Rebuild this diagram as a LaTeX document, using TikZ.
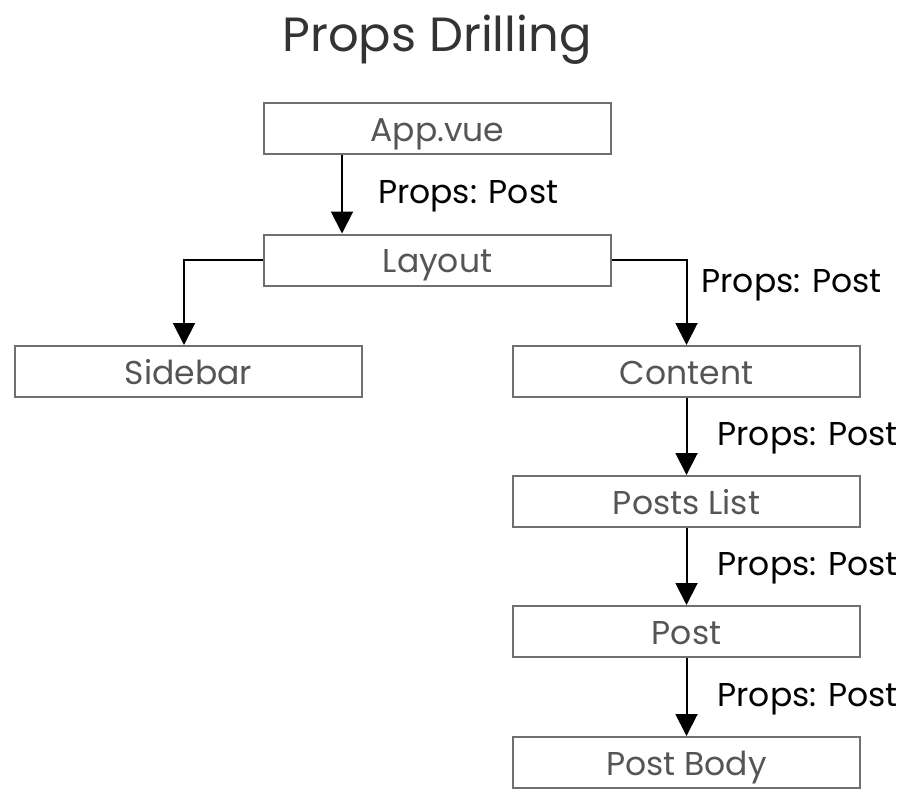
\documentclass[tikz,border=0pt]{standalone}
\usepackage{fontspec}
\setmainfont{Poppins}
\usetikzlibrary{arrows.meta,positioning,calc}
\definecolor{boxgrey}{HTML}{555555}
\definecolor{edgegrey}{HTML}{6F6F6F}
\tikzset{
  comp/.style       = {draw=edgegrey, line width=2pt, minimum height=51pt,
                       minimum width=347pt, inner sep=0pt, text=boxgrey,
                       text height=28pt, text depth=3pt,
                       font=\fontsize{33}{36}\selectfont},
  flow/.style       = {-{Triangle[length=22pt, width=22pt]}, line width=2pt},
  lbl/.style        = {font=\fontsize{33}{36}\selectfont, inner sep=0pt, anchor=west,
                       text height=24pt, text depth=6pt},
  title/.style      = {font=\fontsize{48}{52}\selectfont, text=black!80},
}
\begin{document}
\begin{tikzpicture}[x=1pt, y=-1pt]
  \useasboundingbox (0,0) rectangle (912,805);
  \node[title] (head) at (437,40) {Props Drilling};
  \node[comp] (app) at (437.5,129) {App.vue};
  \node[comp] (layout) at (437.5,260) {Layout};
  \node[comp] (sidebar) at (188.5,371.5) {Sidebar};
  \node[comp] (content) at (686.5,371.5) {Content};
  \node[comp] (list) at (686.5,501.5) {Posts List};
  \node[comp] (post) at (686.5,631.5) {Post};
  \node[comp] (body) at (686.5,762.5) {Post Body};
  \draw[flow] (app.south -| 342,0) -- (layout.north -| 342,0)
    node[midway, lbl, xshift=35pt] {Props: Post};
  \draw[flow] (layout.west) -| (sidebar.north -| 184,0);
  \draw[flow] (layout.east) -| (content.north)
    node[pos=0.64, lbl, xshift=14pt] {Props: Post};
  \draw[flow] (content) -- (list)
    node[midway, lbl, xshift=30pt] {Props: Post};
  \draw[flow] (list) -- (post)
    node[midway, lbl, xshift=30pt] {Props: Post};
  \draw[flow] (post) -- (body)
    node[midway, lbl, xshift=30pt] {Props: Post};
\end{tikzpicture}
\end{document}
